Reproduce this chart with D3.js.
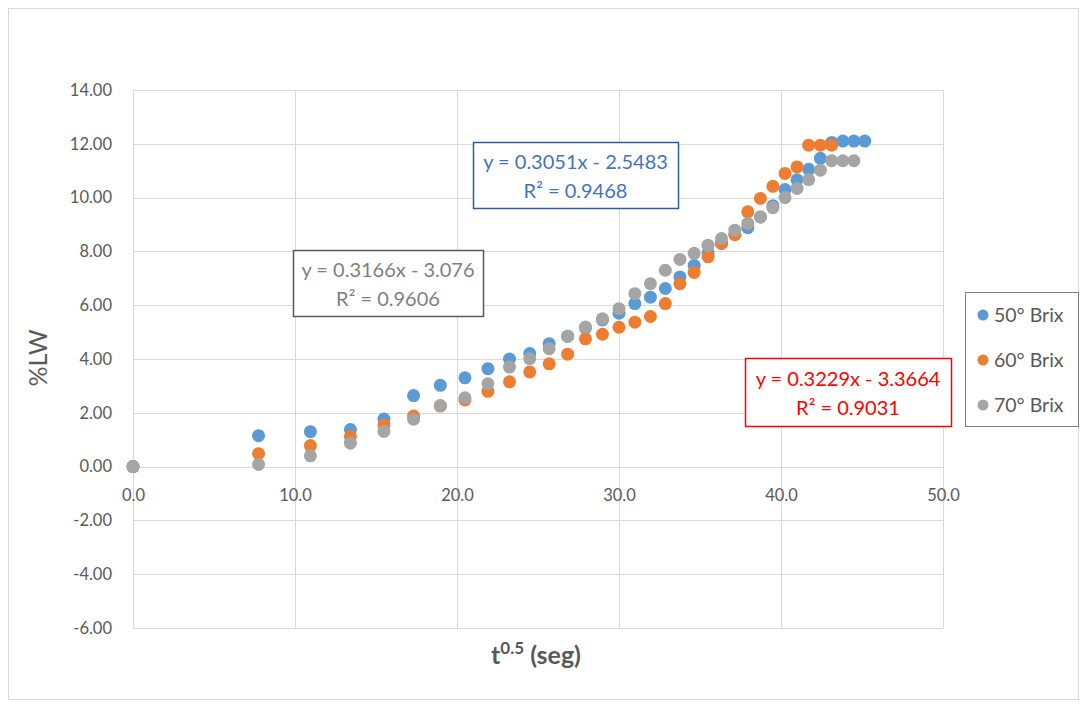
<!DOCTYPE html>
<html>
<head>
<meta charset="utf-8">
<script src="https://cdn.jsdelivr.net/npm/d3@7"></script>
<style>
  html, body { margin: 0; padding: 0; background: #fff; }
  svg { display: block; }
  text { font-family: Lato, "Open Sans", sans-serif; }
</style>
</head>
<body>
<svg id="chart" width="1084" height="707"></svg>
<script>
// Square root of elapsed time (s^0.5) at each reading
const tSqrt = [0, 7.75, 10.95, 13.42, 15.49, 17.32, 18.97, 20.49, 21.91, 23.24,
  24.49, 25.69, 26.83, 27.93, 28.98, 30.00, 30.98, 31.94, 32.86, 33.76,
  34.64, 35.50, 36.33, 37.15, 37.95, 38.73, 39.50, 40.25, 40.99, 41.71,
  42.43, 43.13, 43.82, 44.50, 45.17];

// Percent weight loss for each syrup concentration
const brix50 = [0, 1.15, 1.30, 1.38, 1.77, 2.64, 3.02, 3.30, 3.64, 4.00,
  4.20, 4.57, 4.85, 5.15, 5.45, 5.70, 6.06, 6.30, 6.62, 7.05,
  7.48, 7.95, 8.30, 8.65, 8.88, 9.28, 9.70, 10.30, 10.66, 11.05,
  11.46, 12.05, 12.10, 12.10, 12.10];
const brix60 = [0, 0.48, 0.78, 1.12, 1.55, 1.88, 2.25, 2.48, 2.80, 3.15,
  3.52, 3.82, 4.18, 4.75, 4.92, 5.18, 5.37, 5.58, 6.06, 6.80,
  7.22, 7.80, 8.30, 8.62, 9.47, 9.97, 10.42, 10.90, 11.14, 11.95,
  11.95, 11.95];
const brix70 = [0, 0.08, 0.40, 0.87, 1.31, 1.76, 2.27, 2.56, 3.08, 3.70,
  4.01, 4.38, 4.84, 5.19, 5.50, 5.87, 6.43, 6.80, 7.30, 7.70,
  7.93, 8.23, 8.48, 8.79, 9.04, 9.28, 9.63, 10.00, 10.34, 10.67,
  11.02, 11.37, 11.37, 11.37];

const seriesNames = ["50° Brix", "60° Brix", "70° Brix"];
const seriesColors = ["#5B9BD5", "#ED7D31", "#A5A5A5"];

const xTicks = [0, 10, 20, 30, 40, 50];
const yTicks = [-6, -4, -2, 0, 2, 4, 6, 8, 10, 12, 14];

// Trendline equations shown in boxes
const trendLabels = [
  ["y = 0.3051x - 2.5483", "R² = 0.9468"],
  ["y = 0.3229x - 3.3664", "R² = 0.9031"],
  ["y = 0.3166x - 3.076", "R² = 0.9606"]
];

const svg = d3.select("#chart");
const plot = { left: 133, right: 943, top: 90, bottom: 628 };

const x = d3.scaleLinear().domain([0, 50]).range([plot.left, plot.right]);
const y = d3.scaleLinear().domain([-6, 14]).range([plot.bottom, plot.top]);

const textGray = "#595959";
const gridGray = "#d9d9d9";

// outer chart frame
svg.append("rect")
  .attr("x", 8.5).attr("y", 8.5)
  .attr("width", 1070).attr("height", 691)
  .attr("fill", "#fff").attr("stroke", "#d9d9d9").attr("stroke-width", 1);

// gridlines
const grid = svg.append("g");
grid.selectAll("line.h").data(yTicks).join("line")
  .attr("class", "h")
  .attr("x1", plot.left).attr("x2", plot.right)
  .attr("y1", d => Math.round(y(d)) + 0.5).attr("y2", d => Math.round(y(d)) + 0.5)
  .attr("stroke", gridGray).attr("stroke-width", 1);
grid.selectAll("line.v").data(xTicks).join("line")
  .attr("class", "v")
  .attr("y1", plot.top).attr("y2", plot.bottom)
  .attr("x1", d => Math.round(x(d)) + 0.5).attr("x2", d => Math.round(x(d)) + 0.5)
  .attr("stroke", gridGray).attr("stroke-width", 1);

// y axis labels
const yAxis = d3.axisLeft(y).tickValues(yTicks).tickSize(0).tickPadding(21)
  .tickFormat(d => d.toFixed(2));
svg.append("g").attr("transform", `translate(${plot.left},0)`).call(yAxis)
  .call(g => g.select(".domain").remove())
  .call(g => g.selectAll("text").attr("fill", textGray)
    .style("font-size", "16.5px").style("font-family", "Lato, sans-serif"));

// x axis labels, hung from the zero line
const xAxis = d3.axisBottom(x).tickValues(xTicks).tickSize(0).tickPadding(23)
  .tickFormat(d => d.toFixed(1));
svg.append("g").attr("transform", `translate(0,${y(0)})`).call(xAxis)
  .call(g => g.select(".domain").remove())
  .call(g => g.selectAll("text").attr("fill", textGray)
    .style("font-size", "16.5px").style("font-family", "Lato, sans-serif"));

// axis titles
const xTitle = svg.append("text")
  .attr("x", 536).attr("y", 664)
  .attr("text-anchor", "middle")
  .attr("fill", textGray)
  .style("font-size", "25px").style("font-weight", "bold");
xTitle.append("tspan").text("t");
xTitle.append("tspan").attr("dy", -10).style("font-size", "17px").text("0.5");
xTitle.append("tspan").attr("dy", 10).text(" (seg)");

svg.append("text")
  .attr("transform", "translate(47,358) rotate(-90)")
  .attr("text-anchor", "middle")
  .attr("fill", textGray)
  .style("font-size", "25px")
  .text("%LW");

// scatter points, drawn series by series
const series = [brix50, brix60, brix70].map((vals, i) => ({
  name: seriesNames[i],
  color: seriesColors[i],
  points: vals.map((v, j) => ({ t: tSqrt[j], v }))
}));

series.forEach(s => {
  svg.append("g").selectAll("circle").data(s.points).join("circle")
    .attr("cx", d => x(d.t))
    .attr("cy", d => y(d.v))
    .attr("r", 6.5)
    .attr("fill", s.color);
});

// trendline equation boxes
const boxes = [
  { label: trendLabels[0], x0: 473, y0: 142, w: 205, h: 66, stroke: "#2E5D9A", fill: "#4472C4" },
  { label: trendLabels[1], x0: 745, y0: 358, w: 206, h: 68, stroke: "#FF0000", fill: "#FF0000" },
  { label: trendLabels[2], x0: 293, y0: 250, w: 190, h: 66, stroke: "#595959", fill: "#7F7F7F" }
];
boxes.forEach(b => {
  const g = svg.append("g");
  g.append("rect")
    .attr("x", b.x0 + 0.5).attr("y", b.y0 + 0.5)
    .attr("width", b.w).attr("height", b.h)
    .attr("fill", "#fff").attr("stroke", b.stroke).attr("stroke-width", 1.5);
  const cx = b.x0 + b.w / 2;
  g.append("text")
    .attr("x", cx).attr("y", b.y0 + b.h * 0.31)
    .attr("dy", "0.35em").attr("text-anchor", "middle")
    .attr("fill", b.fill).style("font-size", "20px")
    .text(b.label[0]);
  g.append("text")
    .attr("x", cx).attr("y", b.y0 + b.h * 0.74)
    .attr("dy", "0.35em").attr("text-anchor", "middle")
    .attr("fill", b.fill).style("font-size", "20px")
    .text(b.label[1]);
});

// legend
const legend = svg.append("g");
legend.append("rect")
  .attr("x", 965.5).attr("y", 292.5)
  .attr("width", 113).attr("height", 134)
  .attr("fill", "#fff").attr("stroke", "#7f7f7f").attr("stroke-width", 1);
const items = legend.selectAll("g.item").data(series).join("g")
  .attr("class", "item")
  .attr("transform", (d, i) => `translate(983,${315 + i * 45})`);
items.append("circle").attr("r", 5.5).attr("fill", d => d.color);
items.append("text")
  .attr("x", 11).attr("dy", "0.35em")
  .attr("fill", textGray).style("font-size", "19.5px")
  .text(d => d.name);
</script>
</body>
</html>
